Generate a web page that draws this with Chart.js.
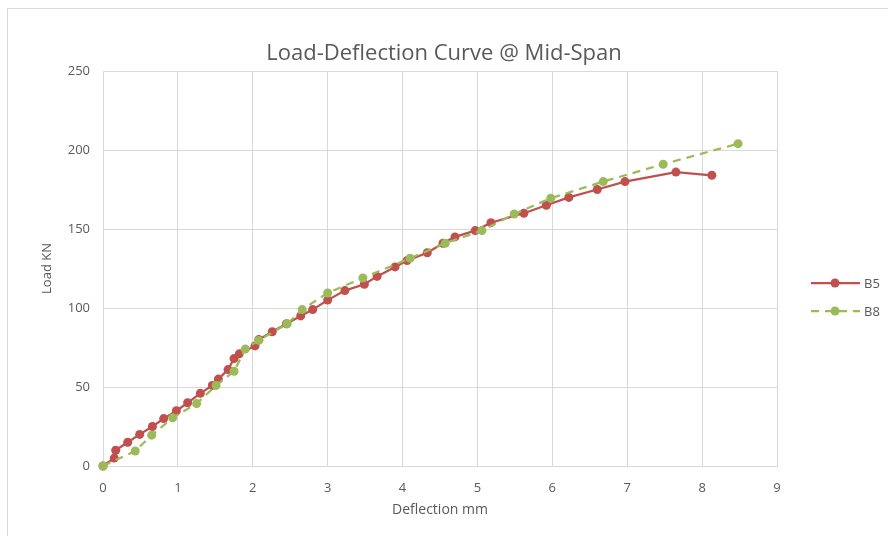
<!DOCTYPE html>
<html>
<head>
<meta charset="utf-8">
<script src="https://cdn.jsdelivr.net/npm/chart.js@4.4.1/dist/chart.umd.min.js"></script>
<style>
html,body{margin:0;padding:0;background:#fff;}
#wrap{width:888px;height:536px;position:relative;}
</style>
</head>
<body>
<div id="wrap"><canvas id="c" width="888" height="536"></canvas></div>
<script>
const chartTitle = "Load-Deflection Curve @ Mid-Span";
const xAxisTitle = "Deflection mm";
const yAxisTitle = "Load KN";
const seriesNames = ["B5", "B8"];

const b5Deflection = [0, 0.15, 0.17, 0.33, 0.49, 0.66, 0.81, 0.98, 1.13, 1.3, 1.46, 1.54, 1.67, 1.75, 1.82, 2.03, 2.08, 2.26, 2.45, 2.64, 2.8, 3.0, 3.23, 3.49, 3.66, 3.9, 4.06, 4.33, 4.54, 4.7, 4.97, 5.18, 5.62, 5.92, 6.22, 6.6, 6.97, 7.65, 8.13];
const b5Load = [0, 5, 10, 15, 20, 25, 30, 35, 40, 46, 51, 55, 61, 68, 71, 76, 80, 85, 90, 95, 99, 105, 111, 115, 120, 126, 130, 135, 141, 145, 149, 154, 160, 165, 170, 175, 180, 186, 184];

const b8Deflection = [0, 0.43, 0.65, 0.93, 1.25, 1.51, 1.75, 1.9, 2.08, 2.46, 2.66, 3.0, 3.47, 4.1, 4.57, 5.06, 5.49, 5.98, 6.68, 7.48, 8.48];
const b8Load = [0, 9.5, 19.5, 30.5, 39.5, 51, 60, 74, 79.5, 90, 99, 109.5, 119, 131.5, 141, 149, 159.5, 169.5, 180, 191, 204];

const xTicks = [0, 1, 2, 3, 4, 5, 6, 7, 8, 9];
const yTicks = [0, 50, 100, 150, 200, 250];

const FONT = "'Open Sans', 'Liberation Sans', sans-serif";
const TXT = "#595959";
const GRID = "#d9d9d9";
const RED = "#C0504D";
const GREEN = "#9BBB59";

function toPoints(xs, ys){ return xs.map((x,i)=>({x:x, y:ys[i]})); }

const framePlugin = {
  id: 'frame',
  beforeDraw(chart){
    const ctx = chart.ctx;
    ctx.save();
    ctx.fillStyle = '#fff';
    ctx.fillRect(0,0,chart.width,chart.height);
    ctx.strokeStyle = GRID;
    ctx.lineWidth = 1;
    ctx.beginPath();
    ctx.moveTo(7.5, chart.height);
    ctx.lineTo(7.5, 8.5);
    ctx.lineTo(chart.width, 8.5);
    ctx.stroke();
    ctx.restore();
  },
  afterDraw(chart){
    const ctx = chart.ctx;
    ctx.save();
    ctx.fillStyle = TXT;
    ctx.font = "22px " + FONT;
    ctx.textAlign = 'center';
    ctx.textBaseline = 'middle';
    ctx.fillText(chartTitle, 444, 54);
    ctx.restore();
  }
};

const legendPlugin = {
  id: 'customLegend',
  afterDraw(chart){
    const ctx = chart.ctx;
    ctx.save();
    const ys = [283, 311];
    chart.data.datasets.forEach((ds, i) => {
      const y = ys[i];
      ctx.strokeStyle = ds.borderColor;
      ctx.lineWidth = ds.borderWidth;
      ctx.setLineDash(ds.borderDash || []);
      ctx.beginPath();
      ctx.moveTo(811, y);
      ctx.lineTo(860, y);
      ctx.stroke();
      ctx.setLineDash([]);
      ctx.fillStyle = ds.pointBackgroundColor;
      ctx.beginPath();
      ctx.arc(835, y, 4.5, 0, Math.PI*2);
      ctx.fill();
      ctx.fillStyle = TXT;
      ctx.font = "13px " + FONT;
      ctx.textBaseline = 'middle';
      ctx.textAlign = 'left';
      ctx.fillText(ds.label, 864, y + 1);
    });
    ctx.restore();
  }
};

new Chart(document.getElementById('c'), {
  type: 'scatter',
  data: {
    datasets: [
      {
        label: seriesNames[0],
        data: toPoints(b5Deflection, b5Load),
        showLine: true,
        order: 1,
        clip: false,
        borderColor: RED,
        backgroundColor: RED,
        pointBackgroundColor: RED,
        pointBorderColor: RED,
        borderWidth: 2.25,
        pointRadius: 4.5,
        pointBorderWidth: 0,
        tension: 0
      },
      {
        label: seriesNames[1],
        data: toPoints(b8Deflection, b8Load),
        showLine: true,
        order: 0,
        clip: false,
        borderColor: GREEN,
        backgroundColor: GREEN,
        pointBackgroundColor: GREEN,
        pointBorderColor: GREEN,
        borderWidth: 2.25,
        borderDash: [8, 6],
        pointRadius: 4.5,
        pointBorderWidth: 0,
        tension: 0
      }
    ]
  },
  options: {
    responsive: false,
    animation: false,
    layout: { padding: { left: 30, right: 111, top: 71, bottom: 18 } },
    plugins: {
      legend: { display: false },
      tooltip: { enabled: false },
      title: { display: false }
    },
    scales: {
      x: {
        type: 'linear',
        min: 0, max: 9,
        afterBuildTicks(scale){ scale.ticks = xTicks.map(v=>({value:v})); },
        afterFit(scale){ scale.height = 52; },
        grid: { color: GRID, drawTicks: false, lineWidth: 1 },
        border: { color: GRID },
        ticks: { color: TXT, font: { family: FONT, size: 13 }, padding: 14 },
        title: { display: true, text: xAxisTitle, color: TXT, font: { family: FONT, size: 14 }, padding: 0 }
      },
      y: {
        type: 'linear',
        min: 0, max: 250,
        afterBuildTicks(scale){ scale.ticks = yTicks.map(v=>({value:v})); },
        afterFit(scale){ scale.width = 73; },
        grid: { color: GRID, drawTicks: false, lineWidth: 1 },
        border: { display: false },
        ticks: { color: TXT, font: { family: FONT, size: 13 }, padding: 13 },
        title: { display: true, text: yAxisTitle, color: TXT, font: { family: FONT, size: 13 }, padding: { top: 9, bottom: 0 } }
      }
    }
  },
  plugins: [framePlugin, legendPlugin]
});
</script>
</body>
</html>
